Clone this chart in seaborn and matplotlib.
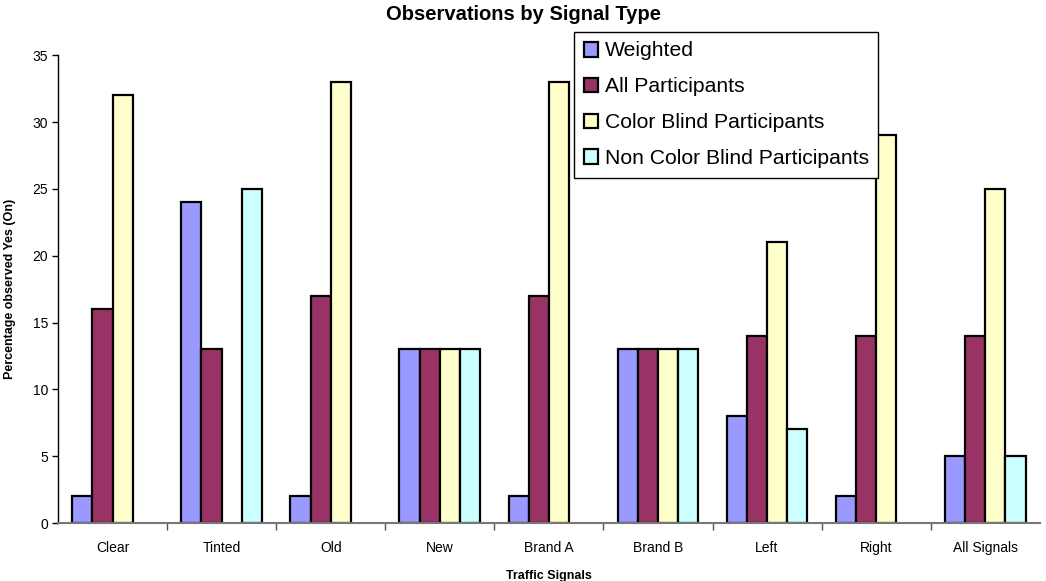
import numpy as np
import pandas as pd
import matplotlib.pyplot as plt
import seaborn as sns

signals = ['Clear', 'Tinted', 'Old', 'New', 'Brand A', 'Brand B', 'Left', 'Right', 'All Signals']
weighted = [2, 24, 2, 13, 2, 13, 8, 2, 5]
all_participants = [16, 13, 17, 13, 17, 13, 14, 14, 14]
color_blind = [32, np.nan, 33, 13, 33, 13, 21, 29, 25]
non_color_blind = [np.nan, 25, np.nan, 13, np.nan, 13, 7, np.nan, 5]

groups = ['Weighted', 'All Participants', 'Color Blind Participants', 'Non Color Blind Participants']
colors = ['#9999FF', '#993366', '#FFFFCC', '#CCFFFF']

df = pd.DataFrame({
    'signal': signals * 4,
    'group': [g for g in groups for _ in signals],
    'value': weighted + all_participants + color_blind + non_color_blind,
})

sns.set_style('white')
plt.rcParams['font.family'] = ['Liberation Sans', 'DejaVu Sans']
plt.rcParams['text.color'] = 'black'
plt.rcParams['axes.labelcolor'] = 'black'
plt.rcParams['xtick.color'] = 'black'
plt.rcParams['ytick.color'] = 'black'

fig = plt.figure(figsize=(10.46, 5.81), dpi=100)
ax = fig.add_axes([0.0555, 0.0998, 0.9385, 0.8052])

sns.barplot(data=df, x='signal', y='value', hue='group', palette=colors,
            width=0.74, gap=0, edgecolor='black', linewidth=1.6,
            saturation=1, err_kws={'linewidth': 0}, ax=ax, legend=True)

ax.set_ylim(0, 35)
ax.set_yticks(range(0, 36, 5))
ax.set_xlim(-0.5, len(signals) - 0.5)
ax.tick_params(axis='y', labelsize=10, length=4, width=1, direction='out', left=True, pad=3)
ax.tick_params(axis='x', labelsize=10, length=0, pad=13)
ax.set_xticks(np.arange(len(signals) - 1) + 0.5, minor=True)
ax.tick_params(axis='x', which='minor', length=5, width=1, direction='out', bottom=True, color='#555555')

for s in ['top', 'right']:
    ax.spines[s].set_visible(False)
ax.spines['left'].set_color('black')
ax.spines['left'].set_linewidth(1)
ax.spines['bottom'].set_color('#777777')
ax.spines['bottom'].set_linewidth(1.5)

ax.set_ylabel('Percentage observed Yes (On)', fontsize=9, fontweight='bold')
ax.yaxis.set_label_coords(-(58 - 16) / (0.9385 * 1046), 0.5)
ax.set_xlabel('Traffic Signals', fontsize=9, fontweight='bold')
ax.xaxis.set_label_coords(0.5, -(570 - 523) / (0.8052 * 581))
fig.text(524 / 1046, 1 - 14 / 581, 'Observations by Signal Type', fontsize=14.5,
         fontweight='bold', ha='center', va='center')

handles, labels = ax.get_legend_handles_labels()
ax.legend(handles, labels, loc='upper left', bbox_to_anchor=(574 / 1046, 1 - 32 / 581),
          bbox_transform=fig.transFigure, fontsize=15.2, frameon=True, fancybox=False,
          edgecolor='black', framealpha=1, borderpad=0.45, labelspacing=0.8,
          handlelength=0.7, handleheight=0.7, handletextpad=0.3, borderaxespad=0)
ax.get_legend().get_frame().set_linewidth(1)

fig.savefig('out.png', dpi=100)
